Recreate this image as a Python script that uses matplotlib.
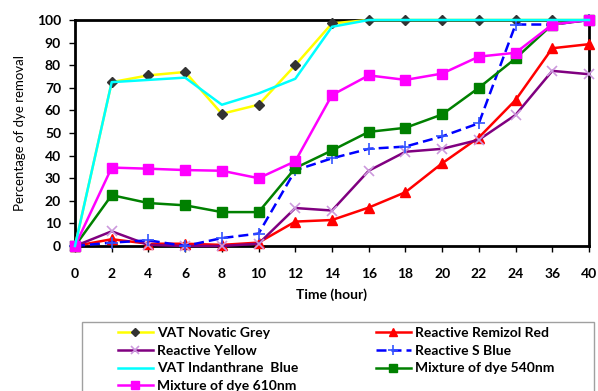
import matplotlib
matplotlib.use("Agg")
import matplotlib.pyplot as plt
from matplotlib.patches import Rectangle
import numpy as np

plt.rcParams['font.family'] = ['Lato', 'DejaVu Sans']

time_labels = ["0", "2", "4", "6", "8", "10", "12", "14", "16", "18", "20", "22", "24", "36", "40"]

vat_novatic_grey = [0, 72.5, 75.5, 77, 58.5, 62.5, 80, 98.5, 100, 100, 100, 100, 100, 100, 100]
reactive_remizol_red = [0, 3, 1, 1, 0.5, 1.5, 10.8, 11.5, 17, 23.8, 36.6, 48, 64.6, 87.5, 89.3]
reactive_yellow = [0, 6.5, 0.5, 0, 0, 1, 16.8, 15.7, 33.3, 41.7, 43, 47, 58, 77.5, 76]
reactive_s_blue = [0, 1.5, 2.5, 0, 3.5, 5.5, 33.5, 38.8, 43, 44, 48.5, 54.3, 98, 98, 100]
vat_indanthrane_blue = [0, 72.5, 73.5, 74.5, 62.5, 67.5, 74, 97, 100, 100, 100, 100, 100, 100, 100]
mixture_540 = [0, 22.5, 19, 18, 15, 15, 34.5, 42.3, 50.5, 52.3, 58.2, 70, 83, 98, 100]
mixture_610 = [0, 34.7, 34.2, 33.6, 33.3, 30, 37.5, 66.8, 75.5, 73.5, 76.3, 83.8, 85.5, 98, 100]

W, H = 598, 391
fig = plt.figure(figsize=(W/100, H/100), dpi=100)
ax = fig.add_axes([75/W, 1-246/H, (589-75)/W, (246-20)/H])
x = np.arange(len(time_labels))

h_grey, = ax.plot(x, vat_novatic_grey, color='#FFFF00', lw=1.8, marker='D', ms=5,
                  mfc='#333333', mec='#333333', label='VAT Novatic Grey', zorder=3)
h_ind, = ax.plot(x, vat_indanthrane_blue, color='#00FFFF', lw=1.8, label='VAT Indanthrane  Blue', zorder=4)
h_red, = ax.plot(x, reactive_remizol_red, color='#FF0000', lw=1.8, marker='^', ms=7,
                 mfc='#FF0000', mec='#FF0000', label='Reactive Remizol Red', zorder=3)
h_yel, = ax.plot(x, reactive_yellow, color='#800080', lw=1.8, marker='x', ms=7.5, mew=1.2,
                 mec='#CC99DD', label='Reactive Yellow', zorder=3)
h_sb, = ax.plot(x, reactive_s_blue, color='#0000FF', lw=1.8, ls=(0, (4, 2)), marker='+', ms=9,
                mew=1.2, mec='#3355FF', label='Reactive S Blue', zorder=3)
h_540, = ax.plot(x, mixture_540, color='#008000', lw=1.8, marker='s', ms=6.5,
                 mfc='#008000', mec='#008000', label='Mixture of dye 540nm', zorder=3)
h_610, = ax.plot(x, mixture_610, color='#FF00FF', lw=1.8, marker='s', ms=7,
                 mfc='#FF00FF', mec='#FF00FF', label='Mixture of dye 610nm', zorder=3)

ax.set_xlim(0, 14)
ax.set_ylim(0, 100)
ax.set_xticks(x)
ax.set_xticklabels(time_labels)
ax.set_yticks(np.arange(0, 101, 10))
for lab in ax.get_xticklabels() + ax.get_yticklabels():
    lab.set_fontweight('bold')
    lab.set_fontsize(10)
ax.tick_params(direction='out', length=4, width=1)
ax.tick_params(axis='x', pad=11.5)
ax.tick_params(axis='y', pad=6)
for s in ax.spines.values():
    s.set_linewidth(2)
    s.set_color('black')
ax.set_xlabel('Time (hour)', fontsize=10, fontweight='bold', labelpad=6)
ax.set_ylabel('Percentage of dye removal', fontsize=9.5, labelpad=8)
for line in ax.get_lines():
    line.set_clip_on(False)

# legend frame
fig.patches.append(Rectangle((82/W, -0.05), (594-82)/W, 1-322/H+0.05, transform=fig.transFigure,
                             facecolor='white', edgecolor='#A0A0A0', lw=1, zorder=0))

common = dict(loc='upper left', frameon=False, fontsize=10, handlelength=2.5,
              labelspacing=0.41, borderpad=0, borderaxespad=0, handletextpad=0.3,
              markerscale=0.8)
leg1 = fig.legend(handles=[h_grey, h_yel, h_ind, h_610], bbox_to_anchor=(118/W, 1-327/H), **common)
leg2 = fig.legend(handles=[h_red, h_sb, h_540], bbox_to_anchor=(376/W, 1-327/H), **common)
for leg in (leg1, leg2):
    for t in leg.get_texts():
        t.set_fontweight('bold')

fig.savefig('out.png', dpi=100)
